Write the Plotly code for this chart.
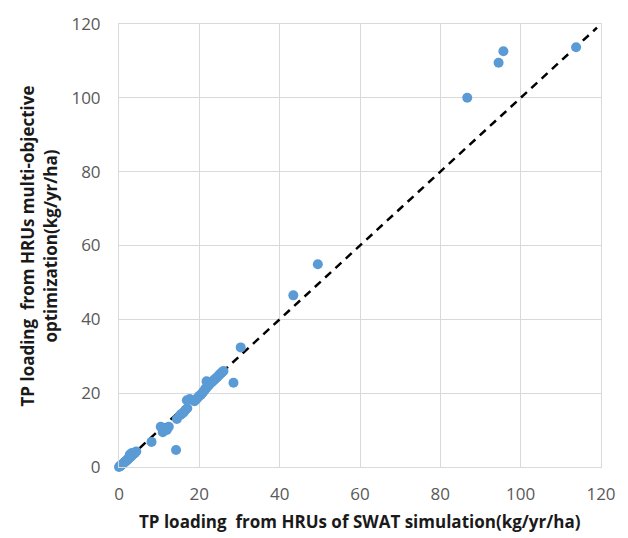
import plotly.graph_objects as go

# SWAT simulated TP loading (x) vs multi-objective optimization TP loading (y), kg/yr/ha
swat_sim = [0.0, 0.2, 0.4, 0.5, 0.7, 0.9, 1.1, 1.3, 1.5, 1.7, 1.9, 2.1, 2.3, 2.6, 2.9, 3.1, 3.4, 3.7, 4.0, 4.3, 2.7, 3.2,
            8.1, 10.4, 10.9, 11.1, 11.9, 12.4, 14.2, 14.4,
            15.2, 15.6, 16.1, 16.6, 17.0, 16.9, 17.6,
            18.8, 19.2, 19.6, 20.0, 20.4, 20.7, 21.0, 21.3, 21.5, 21.8, 22.1, 22.4, 22.7, 23.0, 23.3,
            23.6, 23.9, 24.2, 24.5, 24.8, 25.1, 25.4, 25.7, 26.0, 21.8, 23.0,
            28.5, 30.3, 43.4, 49.5, 86.7, 94.5, 95.7, 113.8]
moo_opt = [0.0, 0.2, 0.3, 0.5, 0.6, 0.8, 1.0, 1.2, 1.4, 1.6, 1.8, 2.0, 2.2, 2.5, 2.8, 3.0, 3.3, 3.6, 3.9, 4.2, 3.4, 3.8,
           6.8, 10.9, 9.4, 10.1, 10.0, 10.9, 4.6, 13.0,
           14.0, 14.4, 14.8, 15.5, 15.9, 18.1, 18.4,
           17.8, 18.3, 18.8, 19.3, 19.6, 20.0, 20.4, 20.8, 21.2, 21.5, 21.9, 22.2, 22.6, 22.9, 23.2,
           23.5, 23.8, 24.1, 24.4, 24.8, 25.1, 25.4, 25.7, 26.0, 23.2, 23.0,
           22.8, 32.4, 46.5, 54.9, 100.0, 109.5, 112.6, 113.7]

line_x = [0, 119]
line_y = [0, 119]

tick_vals = [0, 20, 40, 60, 80, 100, 120]

x_title = "TP loading  from HRUs of SWAT simulation(kg/yr/ha)"
y_title = "TP loading  from HRUs multi-objective<br>optimization(kg/yr/ha)"

fig = go.Figure()
fig.add_trace(go.Scatter(x=line_x, y=line_y, mode="lines",
                         line=dict(color="black", width=2.5, dash="8px,6px"),
                         showlegend=False, hoverinfo="skip"))
fig.add_trace(go.Scatter(x=swat_sim, y=moo_opt, mode="markers", cliponaxis=False,
                         marker=dict(color="#5B9BD5", size=10, line=dict(width=0)),
                         showlegend=False))

axis_common = dict(
    range=[0, 120], tickvals=tick_vals, showgrid=True, gridcolor="#d9d9d9", gridwidth=1,
    zeroline=False, showline=True, linecolor="#d9d9d9", linewidth=1, mirror=True,
    ticks="", tickfont=dict(family="Open Sans", size=17, color="#595959"),
)

title_font = dict(family="Open Sans", size=17, color="#1a1a1a", weight="bold")

fig.update_layout(
    width=628, height=538,
    margin=dict(l=119, r=26, t=17, b=71),
    paper_bgcolor="white", plot_bgcolor="white",
    xaxis=dict(**axis_common, ticklabelstandoff=12),
    yaxis=dict(**axis_common, ticklabelstandoff=14),
    annotations=[
        dict(text=x_title, xref="paper", yref="paper", x=0.5, y=-0.122,
             xanchor="center", yanchor="middle", showarrow=False, font=title_font),
        dict(text=y_title, xref="paper", yref="paper", x=-0.166, y=0.5,
             xanchor="center", yanchor="middle", showarrow=False, textangle=-90,
             font=title_font, align="center"),
    ],
)

fig.write_html("out.html")
